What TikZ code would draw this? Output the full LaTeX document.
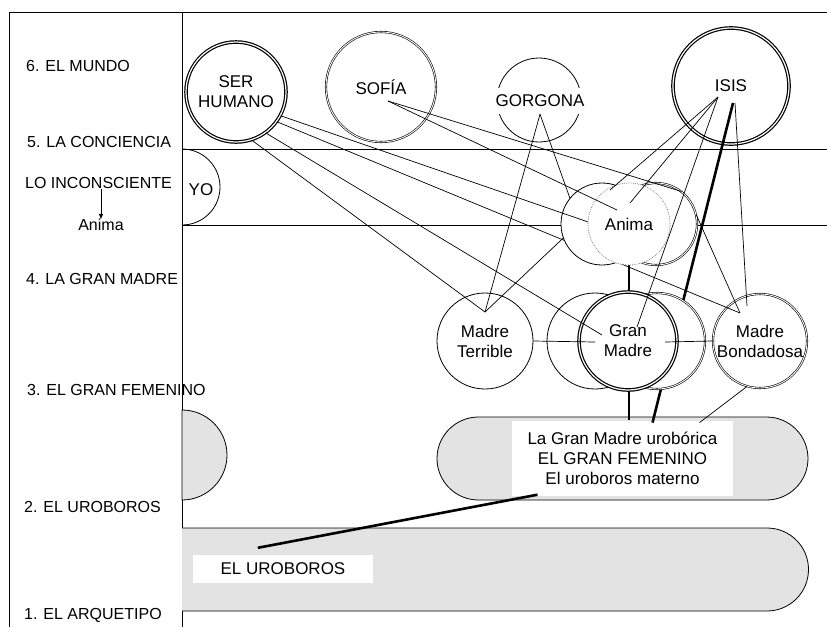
\documentclass[tikz,border=0pt]{standalone}
\usepackage{fontspec}
\setmainfont{Liberation Sans}
\usetikzlibrary{calc,arrows.meta}

\newcommand\lblfont{\fontsize{16}{19}\selectfont}
\newcommand\ringfont{\fontsize{17}{20}\selectfont}

\begin{document}
\begin{tikzpicture}[x=1pt,y=-1pt,
  lbl/.style={anchor=west,font=\lblfont,inner sep=0pt},
  ring/.style={circle,draw,fill=white,line width=0.8pt,font=\ringfont,align=center,inner sep=0pt},
  dring/.style={ring,double,double distance=0.9pt,line width=0.6pt},
  bring/.style={ring,double,double distance=1.2pt,line width=1.2pt},
  link/.style={line width=0.7pt},
  heavy/.style={line width=2.6pt},
  stip/.style={draw,fill=black!11,line width=0.8pt},
  blank/.style={fill=white,font=\ringfont,align=center}]
\useasboundingbox (0,0) rectangle (827,627);

% frame and bands
\draw[line width=0.9pt] (9,627) -- (9,12) -- (827,12);
\draw[line width=0.9pt] (182,12) -- (182,627);
\draw[line width=0.8pt] (182,149) -- (827,149);
\draw[line width=0.8pt] (182,225) -- (827,225);

% levels
\node[lbl] (l6) at (26,66) {6. EL MUNDO};
\node[lbl] (l5) at (27,142) {5. LA CONCIENCIA};
\node[lbl] (incon) at (25,183) {LO INCONSCIENTE};
\node[font=\lblfont,inner sep=0pt] (anlab) at (101,225) {Anima};
\draw[-{Triangle[length=5pt,width=4pt]},line width=0.7pt] (incon.south -| anlab) -- (anlab.north);
\node[lbl] (l4) at (26,279) {4. LA GRAN MADRE};
\node[lbl] (l3) at (27,390) {3. EL GRAN FEMENINO};
\node[lbl] (l2) at (24,507) {2. EL UROBOROS};
\node[lbl] (l1) at (24,615) {1. EL ARQUETIPO};

% yo
\draw[line width=0.8pt] (182,149) arc[start angle=90,end angle=-90,radius=38pt];
\node[font=\ringfont] (yo) at (201,190) {YO};

% uroboros shapes
\draw[stip] (182,410) arc[start angle=90,end angle=-90,radius=45pt] -- cycle;
\draw[stip] (182,528) -- (767,528) arc[start angle=90,end angle=-90,radius=41.5pt] -- (182,611);
\node[stip,rounded corners=41.5pt,minimum width=371pt,minimum height=83pt] (fem) at (622.5,458.5) {};
\node[blank,minimum width=221pt,minimum height=75pt] (femtxt) at (622.5,458) {La Gran Madre urobórica\\EL GRAN FEMENINO\\El uroboros materno};
\node[blank,minimum width=180pt,minimum height=28pt] (urob) at (283,569) {EL UROBOROS};

% el mundo
\node[bring,minimum size=100pt] (ser) at (236,92) {SER\\HUMANO};
\node[dring,minimum size=110pt] (sofia) at (381,87) {SOFÍA};
\node[bring,minimum size=116pt] (isis) at (731,86) {ISIS};
\node[circle,draw,line width=0.8pt,minimum size=84pt] (gorc) at (539,100) {};
\node[blank,inner xsep=2pt,inner ysep=7pt] (gor) at (540,101) {GORGONA};

% la gran madre
\node[ring,minimum size=96pt] (terr) at (485,341) {Madre\\Terrible};
\node[dring,minimum size=94pt] (bond) at (760,341) {Madre\\Bondadosa};
\coordinate (terrin) at ($(terr)+(0,-29)$);
\coordinate (bondin) at ($(bond)+(-20,-28)$);
\coordinate (acen) at (629,224);
\coordinate (gcen) at (628,341);

% lines hidden behind the circles
\draw[link] (ser.-36) -- (bondin);
\draw[heavy] (acen) -- (acen |- femtxt.north);
\draw[heavy] ($(isis)+(2,17)$) -- ($(fem.north)+(30,6)$);

% anima and gran madre
\node[ring,minimum size=82pt] (anl) at ($(acen)+(-27,0)$) {};
\node[dring,minimum size=82pt] (anr) at ($(acen)+(27,0)$) {};
\node[ring,draw=gray,densely dotted,line width=0.7pt,minimum size=82pt] (anima) at (acen) {Anima};
\node[ring,minimum size=96pt] (gml) at ($(gcen)+(-33,0)$) {};
\node[dring,minimum size=96pt] (gmr) at ($(gcen)+(29,0)$) {};
\node[bring,minimum size=98pt] (gm) at (gcen) {Gran\\Madre};

% connections
\draw[link] (ser.-28) -- (anima.177);
\draw[link] (ser.-54) -- ($(gm)+(-26,-6)$);
\draw[link] (ser.-72) -- (terrin);
\draw[link] (gor.south) -- (terrin);
\draw[link] (gor.south) -- (anl.141);
\draw[link] (anl.200) -- (terrin);
\draw[link] ($(sofia)+(7,14)$) -- (anr.52);
\draw[link] ($(sofia)+(7,14)$) -- ($(anima)+(-12,-14)$);
\draw[link] (anr.13) -- (bondin);
\coordinate (isisa) at ($(isis)+(-13,11)$);
\draw[link] (isisa) -- ($(anima)+(-19,-34)$);
\draw[link] (isisa) -- ($(anima)+(1,-21)$);
\draw[link] (isisa) -- ($(gm)+(9,-14)$);
\draw[link] ($(isis)+(4,17)$) -- ($(bond)+(-13,-35)$);
\draw[link] (terr.east) -- ($(gm)+(-33,1)$);
\draw[link] ($(gm)+(37,1)$) -- (bond.west);
\draw[link] (bond.-106) -- ($(fem.north)+(77,6)$);
\draw[heavy] ($(femtxt.south)+(-85,-1)$) -- ($(urob.north west)+(65,-7)$);
\end{tikzpicture}
\end{document}
